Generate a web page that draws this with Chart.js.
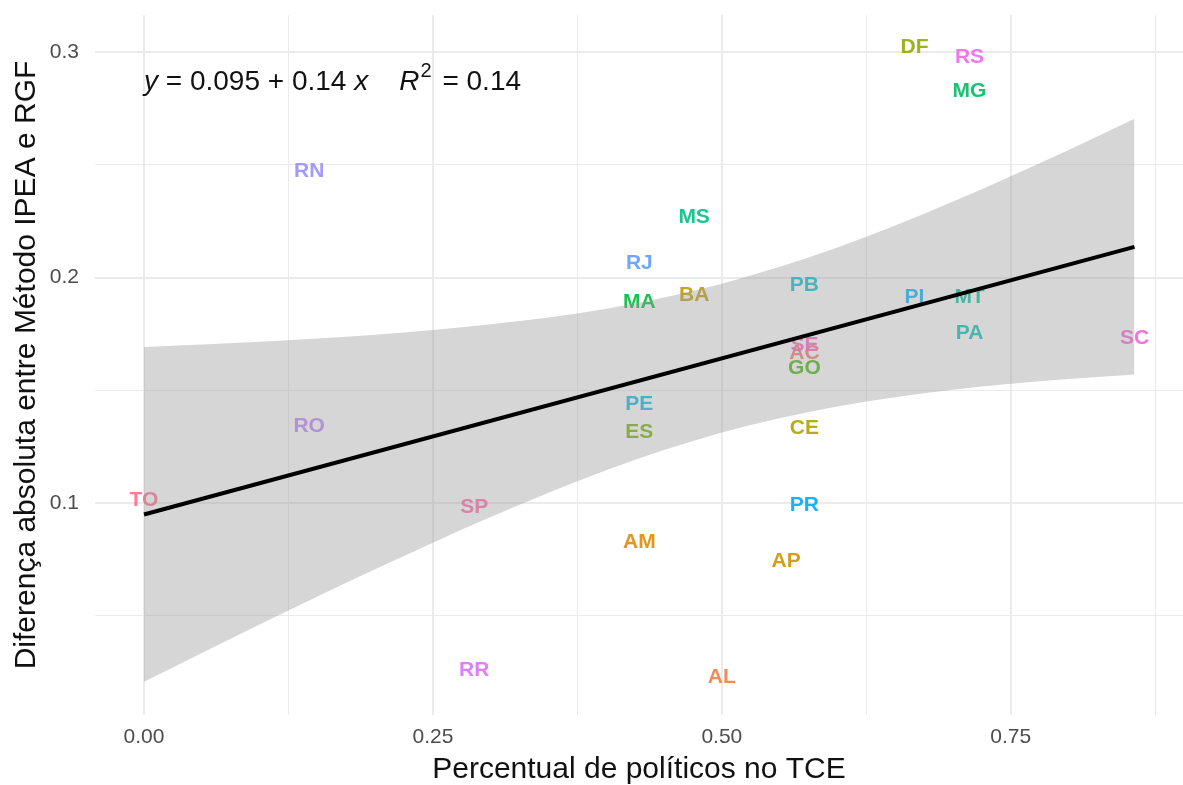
<!DOCTYPE html>
<html>
<head>
<meta charset="utf-8">
<script src="https://cdn.jsdelivr.net/npm/chart.js@4.4.1/dist/chart.umd.min.js"></script>
<style>
  html, body { margin: 0; padding: 0; background: #fff; }
  #wrap { width: 1183px; height: 785px; }
</style>
</head>
<body>
<div id="wrap"><canvas id="scatter"></canvas></div>
<script>
// states in alphabetical order (that is also the order of the hue palette)
const states = ['AC','AL','AM','AP','BA','CE','DF','ES','GO','MA','MG','MS','MT','PA',
                'PB','PE','PI','PR','RJ','RN','RO','RR','RS','SC','SE','SP','TO'];
const pctPoliticians = [0.5714, 0.5, 0.4286, 0.5556, 0.476, 0.5714, 0.6667, 0.4286, 0.5714,
                        0.4286, 0.7143, 0.476, 0.7143, 0.7143, 0.5714, 0.4286, 0.6667, 0.5714,
                        0.4286, 0.1429, 0.1429, 0.2857, 0.7143, 0.8571, 0.5714, 0.2857, 0];
const absDiff = [0.1666, 0.0230, 0.0828, 0.0744, 0.1923, 0.1333, 0.3022, 0.1316, 0.1599,
                 0.1892, 0.2827, 0.2269, 0.1914, 0.1754, 0.1967, 0.1440, 0.1914, 0.0992,
                 0.2065, 0.2473, 0.1342, 0.0261, 0.2978, 0.1732, 0.1701, 0.0983, 0.1014];

// fitted line and its confidence band
const fitX = [0, 0.857];
const fitY = [0.095, 0.2136];
const bandX = [0, 0.1, 0.2, 0.3, 0.4, 0.5, 0.6, 0.7, 0.8, 0.857];
const bandUpper = [0.1692, 0.1716, 0.1747, 0.1793, 0.1862, 0.1973, 0.2133, 0.2337, 0.2566, 0.2704];
const bandLower = [0.0208, 0.0462, 0.0707, 0.0939, 0.1146, 0.1313, 0.1429, 0.1503, 0.1550, 0.1570];

const xMajor = [0, 0.25, 0.5, 0.75];
const xMinor = [0.125, 0.375, 0.625, 0.875];
const yMajor = [0.1, 0.2, 0.3];
const yMinor = [0.05, 0.15, 0.25];

const eqPos = { x: 0, y: 0.2867 };

const FONT = '"Liberation Sans", Arial, Helvetica, sans-serif';

// ggplot-like hue palette (HCL, l = 65, c = 100)
function hcl(h, c, l) {
    const hr = h * Math.PI / 180;
    const U = c * Math.cos(hr), V = c * Math.sin(hr);
    const Xn = 95.047, Yn = 100, Zn = 108.883;
    const un = 4 * Xn / (Xn + 15 * Yn + 3 * Zn), vn = 9 * Yn / (Xn + 15 * Yn + 3 * Zn);
    const Y = l > 8 ? Yn * Math.pow((l + 16) / 116, 3) : Yn * l / 903.3;
    const u = U / (13 * l) + un, v = V / (13 * l) + vn;
    const X = Y * 9 * u / (4 * v);
    const Z = Y * (12 - 3 * u - 20 * v) / (4 * v);
    const x = X / 100, y = Y / 100, z = Z / 100;
    const lin = [
        3.240479 * x - 1.537150 * y - 0.498535 * z,
        -0.969256 * x + 1.875992 * y + 0.041556 * z,
        0.055648 * x - 0.204043 * y + 1.057311 * z
    ];
    return '#' + lin.map(ch => {
        let g = ch <= 0.0031308 ? 12.92 * ch : 1.055 * Math.pow(ch, 1 / 2.4) - 0.055;
        g = Math.min(1, Math.max(0, g));
        return Math.round(g * 255).toString(16).padStart(2, '0');
    }).join('');
}
const stateColors = states.map((s, i) => hcl(15 + 360 * i / states.length, 100, 65));

// text labels go under the band and the line, as in the original
const stateLabels = {
    id: 'stateLabels',
    beforeDatasetsDraw(chart) {
        const meta = chart.getDatasetMeta(0);
        const ctx = chart.ctx;
        ctx.save();
        ctx.font = 'bold 21px ' + FONT;
        ctx.textAlign = 'center';
        ctx.textBaseline = 'middle';
        ctx.globalAlpha = 0.9;
        meta.data.forEach((pt, i) => {
            ctx.fillStyle = stateColors[i];
            ctx.fillText(states[i], pt.x, pt.y);
        });
        ctx.restore();
    }
};

const equation = {
    id: 'equation',
    afterDatasetsDraw(chart) {
        const ctx = chart.ctx;
        let x = chart.scales.x.getPixelForValue(eqPos.x);
        const y = chart.scales.y.getPixelForValue(eqPos.y);
        // [font, text, vertical shift, extra space after]
        const parts = [
            ['italic 28px ', 'y', 0, 0],
            ['28px ', ' = 0.095 + 0.14 ', 0, 0],
            ['italic 28px ', 'x', 0, 0],
            ['28px ', '    ', 0, 0],
            ['italic 28px ', 'R', 0, 1],
            ['20px ', '2', -11, 3],
            ['28px ', ' = 0.14', 0, 0]
        ];
        ctx.save();
        ctx.fillStyle = '#111';
        ctx.textAlign = 'left';
        ctx.textBaseline = 'middle';
        parts.forEach(([f, t, dy, gap]) => {
            ctx.font = f + FONT;
            ctx.fillText(t, x, y + dy);
            x += ctx.measureText(t).width + gap;
        });
        ctx.restore();
    }
};

const toPts = (xs, ys) => xs.map((v, i) => ({ x: v, y: ys[i] }));
const allTicks = (a, b) => a.concat(b).sort((p, q) => p - q).map(v => ({ value: v }));
const noEdgePadding = s => {
    s.paddingTop = 0; s.paddingBottom = 0; s.paddingLeft = 0; s.paddingRight = 0;
};

new Chart(document.getElementById('scatter'), {
    type: 'scatter',
    data: {
        datasets: [
            {
                label: 'states',
                data: toPts(pctPoliticians, absDiff),
                pointRadius: 0,
                showLine: false,
                order: 3
            },
            {
                label: 'upper',
                data: toPts(bandX, bandUpper),
                showLine: true,
                borderWidth: 0,
                pointRadius: 0,
                cubicInterpolationMode: 'monotone',
                backgroundColor: 'rgba(153,153,153,0.4)',
                fill: 2,
                order: 2
            },
            {
                label: 'lower',
                data: toPts(bandX, bandLower),
                showLine: true,
                borderWidth: 0,
                pointRadius: 0,
                cubicInterpolationMode: 'monotone',
                fill: false,
                order: 2
            },
            {
                label: 'fit',
                data: toPts(fitX, fitY),
                showLine: true,
                borderColor: '#000',
                borderWidth: 4,
                pointRadius: 0,
                fill: false,
                order: 0
            }
        ]
    },
    options: {
        responsive: true,
        maintainAspectRatio: false,
        animation: false,
        layout: { padding: { top: 15, right: 0, left: 0, bottom: 0 } },
        plugins: { legend: { display: false }, tooltip: { enabled: false } },
        scales: {
            x: {
                type: 'linear',
                min: -0.0424,
                max: 0.899,
                afterBuildTicks: axis => { axis.ticks = allTicks(xMajor, xMinor); },
                afterFit: s => { s.height = 70; noEdgePadding(s); },
                ticks: {
                    autoSkip: false,
                    maxRotation: 0,
                    padding: 10,
                    color: '#4D4D4D',
                    font: { family: FONT, size: 21 },
                    callback: v => xMajor.includes(v) ? v.toFixed(2) : ''
                },
                grid: {
                    drawTicks: false,
                    color: '#EBEBEB',
                    lineWidth: c => (c.tick && xMajor.includes(c.tick.value)) ? 2 : 1
                },
                border: { display: false },
                title: {
                    display: true,
                    text: 'Percentual de políticos no TCE',
                    color: '#111',
                    font: { family: FONT, size: 30, lineHeight: 1 },
                    padding: { top: 0, bottom: 0 }
                }
            },
            y: {
                type: 'linear',
                min: 0.0061,
                max: 0.3164,
                afterBuildTicks: axis => { axis.ticks = allTicks(yMajor, yMinor); },
                afterFit: s => { s.width = 95; noEdgePadding(s); },
                ticks: {
                    autoSkip: false,
                    padding: 16,
                    color: '#4D4D4D',
                    font: { family: FONT, size: 21 },
                    callback: v => yMajor.includes(v) ? v.toFixed(1) : ''
                },
                grid: {
                    drawTicks: false,
                    color: '#EBEBEB',
                    lineWidth: c => (c.tick && yMajor.includes(c.tick.value)) ? 2 : 1
                },
                border: { display: false },
                title: {
                    display: true,
                    text: 'Diferença absoluta entre Método IPEA e RGF',
                    color: '#111',
                    font: { family: FONT, size: 30, lineHeight: 1 },
                    padding: { top: 12, bottom: 0 }
                }
            }
        }
    },
    plugins: [stateLabels, equation]
});
</script>
</body>
</html>
